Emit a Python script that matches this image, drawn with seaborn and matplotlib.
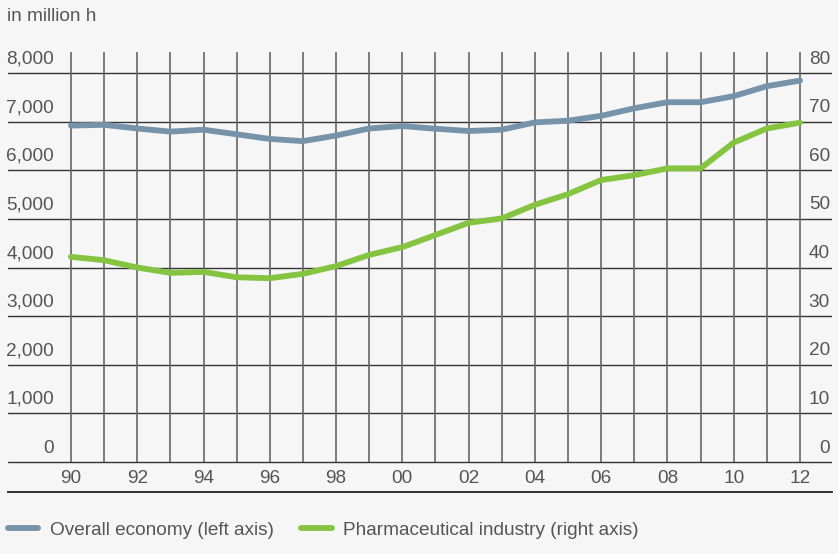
import matplotlib
matplotlib.use("Agg")
import matplotlib.pyplot as plt
from matplotlib.lines import Line2D
import numpy as np
import pandas as pd
import seaborn as sns

# Working hours, 1990-2012
years = list(range(1990, 2013))
year_labels = ["90", "92", "94", "96", "98", "00", "02", "04", "06", "08", "10", "12"]
overall_economy = [6920, 6935, 6860, 6795, 6835, 6740, 6645, 6600, 6715, 6860, 6910,
                   6855, 6808, 6835, 6985, 7020, 7120, 7275, 7400, 7400, 7525, 7730, 7845]
pharma_industry = [42.2, 41.5, 40.0, 38.9, 39.1, 38.0, 37.8, 38.7, 40.3, 42.6, 44.2,
                   46.7, 49.2, 50.1, 52.9, 55.1, 58.0, 59.0, 60.4, 60.4, 65.7, 68.6, 69.8]
left_ticks = [0, 1000, 2000, 3000, 4000, 5000, 6000, 7000, 8000]
right_ticks = [0, 10, 20, 30, 40, 50, 60, 70, 80]

df = pd.DataFrame({"year": years, "overall": overall_economy, "pharma": pharma_industry})

BG = "#f6f6f6"
TXT = "#555555"
BLUE = "#7693aa"
GREEN = "#84c441"
FS = 13.7

sns.set_style("white")
plt.rcParams["font.family"] = ["Liberation Sans", "DejaVu Sans"]

fig = plt.figure(figsize=(8.38, 5.54), dpi=100, facecolor=BG)
ax = fig.add_axes([8 / 838, 1 - 492 / 554, 824 / 838, 440 / 554])
ax.set_facecolor(BG)

x0, x1 = 1988.099, 2012.966
y0, y1 = -617, 8433
ax.set_xlim(x0, x1)
ax.set_ylim(y0, y1)

# grid: horizontal lines across the full width, vertical lines per year
for v in left_ticks:
    ax.axhline(v, color="#333333", lw=1.0, zorder=1)
ax.vlines(years, 0, y1, color="#666666", lw=1.2, zorder=1)

sns.lineplot(data=df, x="year", y="overall", ax=ax, color=BLUE, lw=4.2,
             solid_capstyle="round", zorder=3)

ax2 = ax.twinx()
ax2.set_ylim(y0 / 100, y1 / 100)
sns.lineplot(data=df, x="year", y="pharma", ax=ax2, color=GREEN, lw=4.2,
             solid_capstyle="round", zorder=3)

for a in (ax, ax2):
    a.set_xticks([])
    a.set_yticks([])
    a.set_xlabel("")
    a.set_ylabel("")
    for side in ("top", "left", "right"):
        a.spines[side].set_visible(False)
    a.spines["bottom"].set_color("#333333")
    a.spines["bottom"].set_linewidth(1.2)

# axis labels sitting above their grid lines
px_x = 33.14
px_y = 0.04862
for v in left_ticks:
    ax.text(1990 - 17 / px_x, v + 14 / px_y, f"{v:,}", ha="right", va="center",
            fontsize=FS, color=TXT)
for v in right_ticks:
    ax2.text(2012 + 30 / px_x, v + 14 / px_y / 100, f"{v}", ha="right", va="center",
             fontsize=FS, color=TXT)
for i, lab in enumerate(year_labels):
    ax.text(years[0] + 2 * i, -16 / px_y, lab, ha="center", va="center",
            fontsize=FS, color=TXT)

fig.text(7 / 838, 1 - 21 / 554, "in million h", ha="left", va="baseline",
         fontsize=FS, color=TXT)

handles = [Line2D([], [], color=BLUE, lw=4.2), Line2D([], [], color=GREEN, lw=4.2)]
fig.legend(handles, ["Overall economy (left axis)", "Pharmaceutical industry (right axis)"],
           loc="center left", bbox_to_anchor=(8 / 838, 1 - 530 / 554), ncol=2,
           frameon=False, fontsize=FS, labelcolor=TXT, handlelength=1.6,
           handletextpad=0.6, columnspacing=1.45, borderaxespad=0, borderpad=0)

fig.savefig("out.png", dpi=100, facecolor=BG)
